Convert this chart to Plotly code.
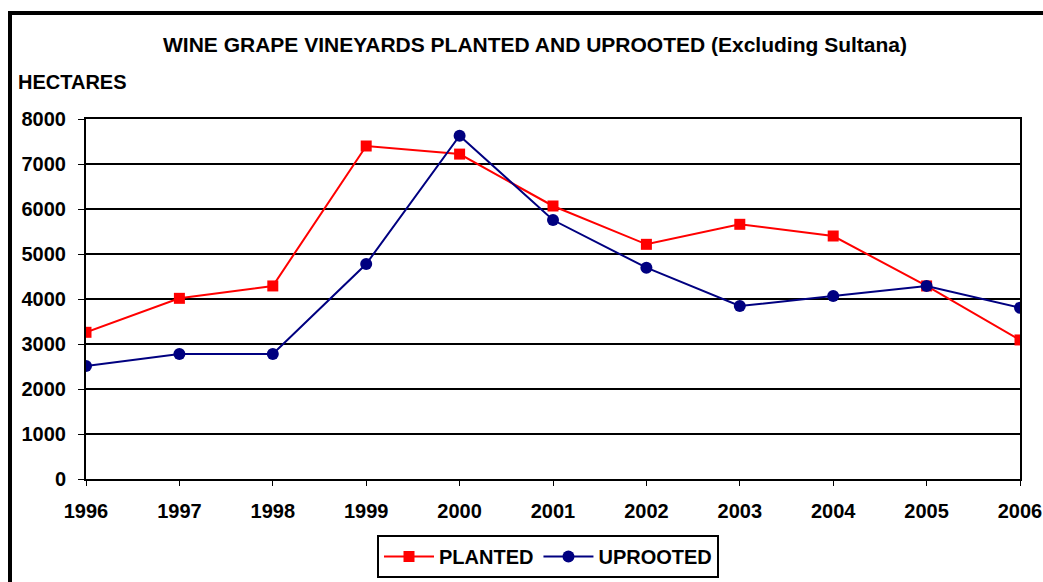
import plotly.graph_objects as go

years = ["1996", "1997", "1998", "1999", "2000", "2001", "2002", "2003", "2004", "2005", "2006"]
planted = [3260, 4015, 4290, 7400, 7220, 6067, 5215, 5660, 5400, 4290, 3090]
uprooted = [2511, 2778, 2778, 4778, 7630, 5755, 4696, 3844, 4067, 4290, 3807]
y_ticks = [0, 1000, 2000, 3000, 4000, 5000, 6000, 7000, 8000]

W, H = 1043, 582
L, R, T, B = 86, 23, 119, 103
pw, ph = W - L - R, H - T - B

def px(x):
    return (x - L) / pw

def py(y):
    return (H - B - y) / ph

FONT = "Liberation Sans, Arial, sans-serif"

fig = go.Figure()
fig.add_trace(go.Scatter(
    x=years, y=planted, name="PLANTED", mode="lines+markers",
    line=dict(color="#FF0000", width=2),
    marker=dict(symbol="square", size=11, color="#FF0000"),
))
fig.add_trace(go.Scatter(
    x=years, y=uprooted, name="UPROOTED", mode="lines+markers",
    line=dict(color="#000080", width=2),
    marker=dict(symbol="circle", size=12, color="#000080"),
))

fig.update_layout(
    width=W, height=H, autosize=False,
    margin=dict(l=L, r=R, t=T, b=B, pad=0, autoexpand=False),
    paper_bgcolor="white", plot_bgcolor="white",
    font=dict(family=FONT, color="black"),
    title=dict(
        text="<b>WINE GRAPE VINEYARDS PLANTED AND UPROOTED (Excluding Sultana)</b>",
        x=535 / W, xref="container", xanchor="center",
        y=1 - 45 / H, yref="container", yanchor="middle",
        font=dict(size=21, family=FONT, color="black"),
    ),
    showlegend=True,
    legend=dict(
        orientation="h", x=548 / W, xref="container", xanchor="center",
        y=1 - 535 / H, yref="container", yanchor="top",
        bordercolor="black", borderwidth=2, bgcolor="white",
        font=dict(size=20, family=FONT, color="black", weight="bold"),
        traceorder="normal", itemwidth=50,
    ),
    xaxis=dict(
        type="category", range=[0, len(years) - 1], automargin=False,
        showline=True, linecolor="black", linewidth=2, mirror=True,
        ticks="outside", ticklen=5, tickcolor="black", tickwidth=1,
        showgrid=False, zeroline=False,
        tickfont=dict(size=20, family=FONT, color="black", weight="bold"),
        ticklabelstandoff=8,
    ),
    yaxis=dict(
        range=[0, 8000], tickvals=y_ticks, automargin=False,
        showline=True, linecolor="black", linewidth=2, mirror=True,
        ticks="outside", ticklen=6, tickcolor="black", tickwidth=1,
        showgrid=True, gridcolor="black", gridwidth=2, zeroline=False,
        tickfont=dict(size=20, family=FONT, color="black", weight="bold"),
        ticklabelstandoff=8,
    ),
    annotations=[dict(
        text="<b>HECTARES</b>", xref="paper", yref="paper",
        x=px(16), y=py(82), xanchor="left", yanchor="middle",
        showarrow=False, font=dict(size=20, family=FONT, color="black"),
    )],
    shapes=[dict(
        type="rect", xref="paper", yref="paper",
        x0=px(10), x1=px(1060), y0=py(600), y1=py(13),
        line=dict(color="black", width=4), fillcolor="rgba(0,0,0,0)",
        layer="above",
    )],
)

fig.write_html(
    "out.html",
    config={"displayModeBar": False},
    post_script="document.body.style.margin='0';document.body.style.padding='0';",
)
